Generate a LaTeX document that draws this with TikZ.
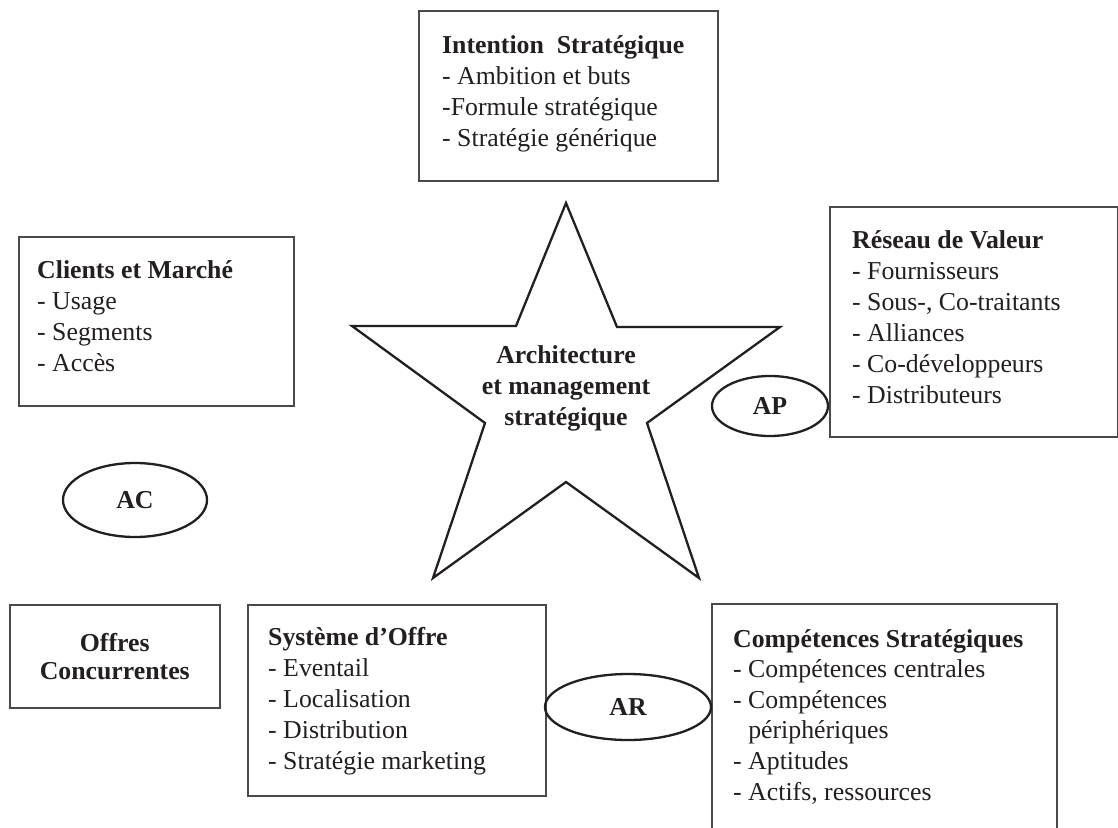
\documentclass[tikz,border=0pt]{standalone}
\usepackage{fontspec}
\setmainfont{Liberation Serif}
\usetikzlibrary{shapes.geometric}
\definecolor{ink}{HTML}{231F20}
\definecolor{boxgray}{HTML}{4A4A4A}
\newcommand\bodyfont{\fontsize{25.8}{31}\selectfont}
\tikzset{
  box/.style={draw=boxgray, line width=1.5pt, rectangle, anchor=north west, inner sep=0pt},
  oval/.style={draw=ink, line width=2.3pt, ellipse, inner sep=0pt, text=ink, font=\bodyfont\bfseries},
  starline/.style={draw=ink, line width=2.3pt, line join=miter},
  txt/.style={anchor=base west, inner sep=0pt, text=ink},
  ctxt/.style={anchor=base, inner sep=0pt, text=ink},
}
\begin{document}
\begin{tikzpicture}[x=1pt,y=-1pt]
\path[use as bounding box] (0,0) rectangle (1118,827);
\clip (0,0) rectangle (1118,827);
\fill[white] (0,0) rectangle (1118,827);

% boxes
\node[box, minimum width=299pt, minimum height=170pt] (intent) at (418,10) {};
\node[box, minimum width=275pt, minimum height=169pt] (clients) at (18,236) {};
\node[box, minimum width=288pt, minimum height=230pt] (reseau) at (829,206) {};
\node[box, minimum width=210pt, minimum height=103pt] (offres) at (9,604) {};
\node[box, minimum width=298pt, minimum height=191pt] (systeme) at (247,604) {};
\node[box, minimum width=345pt, minimum height=260pt] (competences) at (711,603) {};

% box texts
\node[txt] (intent-t) at (442,53) {\parbox[t]{270pt}{\raggedright\bodyfont
  \textbf{Intention\ \ Stratégique}\\
  - Ambition et buts\\
  -Formule stratégique\\
  - Stratégie générique}};
\node[txt] (clients-t) at (37,278) {\parbox[t]{250pt}{\raggedright\bodyfont
  \textbf{Clients et Marché}\\
  - Usage\\
  - Segments\\
  - Accès}};
\node[txt] (reseau-t) at (852,248) {\parbox[t]{260pt}{\raggedright\bodyfont
  \textbf{Réseau de Valeur}\\
  - Fournisseurs\\
  - Sous-, Co-traitants\\
  - Alliances\\
  - Co-développeurs\\
  - Distributeurs}};
\node[inner sep=0pt, text=ink, align=center, font=\fontsize{25.8}{28}\selectfont\bfseries] (offres-t) at (offres.center) {Offres\\Concurrentes};
\node[txt] (systeme-t) at (268,645) {\parbox[t]{270pt}{\raggedright\bodyfont
  \textbf{Système d’Offre}\\
  - Eventail\\
  - Localisation\\
  - Distribution\\
  - Stratégie marketing}};
\node[txt] (competences-t) at (733,647) {\parbox[t]{320pt}{\raggedright\fontsize{25.8}{30.6}\selectfont
  \textbf{Compétences Stratégiques}\\
  - Compétences centrales\\
  - Compétences\\
  \hphantom{- }périphériques\\
  - Aptitudes\\
  - Actifs, ressources}};

% star
\coordinate (sT) at (566,203);
\coordinate (sI1) at (617,327);
\coordinate (sR) at (780,327);
\coordinate (sI2) at (647,423);
\coordinate (sBR) at (699,578);
\coordinate (sI3) at (566,482);
\coordinate (sBL) at (433,578);
\coordinate (sI4) at (485,423);
\coordinate (sL) at (352,326);
\coordinate (sI5) at (516,326);
\draw[starline] (sT) -- (sI1) -- (sR) -- (sI2) -- (sBR) -- (sI3) -- (sBL) -- (sI4) -- (sL) -- (sI5) -- cycle;
\node[ctxt] (star-t) at (566,363) {\parbox[t]{300pt}{\centering\bodyfont\bfseries
  Architecture\\
  et management\\
  stratégique}};

% ellipses
\node[oval, minimum width=144pt, minimum height=74pt] (ac) at (135,500) {AC};
\node[oval, minimum width=116pt, minimum height=60pt] (ap) at (770,406) {AP};
\node[oval, minimum width=166pt, minimum height=66pt] (ar) at (628,707) {AR};
\end{tikzpicture}
\end{document}
